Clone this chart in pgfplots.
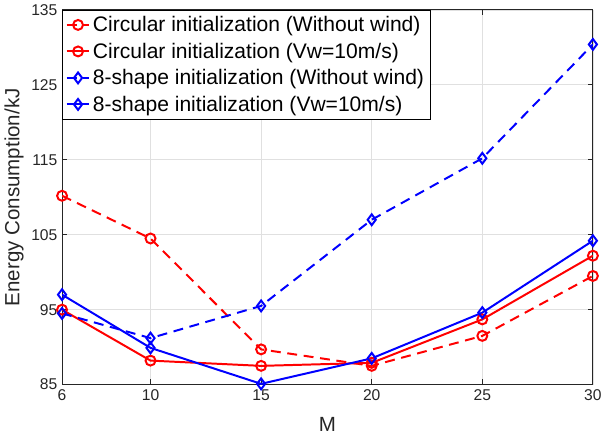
\documentclass[border=0pt]{standalone}
\usepackage{fontspec}
\setmainfont{Liberation Sans}
\usepackage{pgfplots}
\pgfplotsset{compat=1.18}
\definecolor{axgray}{rgb}{0.15,0.15,0.15}
\definecolor{gridgray}{rgb}{0.88,0.88,0.88}
\definecolor{mred}{rgb}{1,0,0}
\definecolor{mblue}{rgb}{0,0,1}

\begin{document}
\begin{tikzpicture}
\begin{axis}[
  scale only axis, width=401pt, height=283pt,
  xmin=6, xmax=30, ymin=85, ymax=135,
  xtick={6,10,15,20,25,30}, ytick={85,95,105,115,125,135},
  grid=major, grid style={gridgray, line width=0.6pt},
  axis line style={axgray, line width=0.75pt},
  tick style={axgray, line width=0.75pt}, major tick length=4pt,
  tick label style={font=\fontsize{11.8}{13}\selectfont, color=axgray},
  /pgf/number format/assume math mode=true,
  xlabel={M}, ylabel={Energy Consumption/kJ},
  label style={font=\fontsize{15.5}{17}\selectfont, color=axgray},
  xlabel style={yshift=-6pt}, ylabel style={yshift=-1pt},
  legend style={at={(0,1)}, anchor=north west, draw=black, line width=0.6pt,
    font=\fontsize{15.9}{19}\selectfont, row sep=3pt, inner sep=2.5pt},
  legend cell align=left,
  every axis plot/.append style={line width=1.5pt, mark options={solid, line width=1.5pt}},
]
\addplot[color=mred, dash pattern=on 7.5pt off 5pt, mark=o, mark size=3.75pt]
  coordinates {(6,110.2)(10,104.5)(15,89.7)(20,87.5)(25,91.5)(30,99.5)};
\addplot[color=mred, mark=o, mark size=3.75pt]
  coordinates {(6,95.0)(10,88.2)(15,87.5)(20,87.9)(25,93.7)(30,102.2)};
\addplot[color=mblue, dash pattern=on 7.5pt off 5pt, mark=diamond, mark size=4.1pt]
  coordinates {(6,94.5)(10,91.2)(15,95.5)(20,107.0)(25,115.2)(30,130.4)};
\addplot[color=mblue, mark=diamond, mark size=4.1pt]
  coordinates {(6,97.0)(10,89.9)(15,85.1)(20,88.5)(25,94.6)(30,104.2)};
\legend{Circular initialization (Without wind),Circular initialization (Vw=10m/s),8-shape initialization (Without wind),8-shape initialization (Vw=10m/s)}
\end{axis}
\end{tikzpicture}
\end{document}
